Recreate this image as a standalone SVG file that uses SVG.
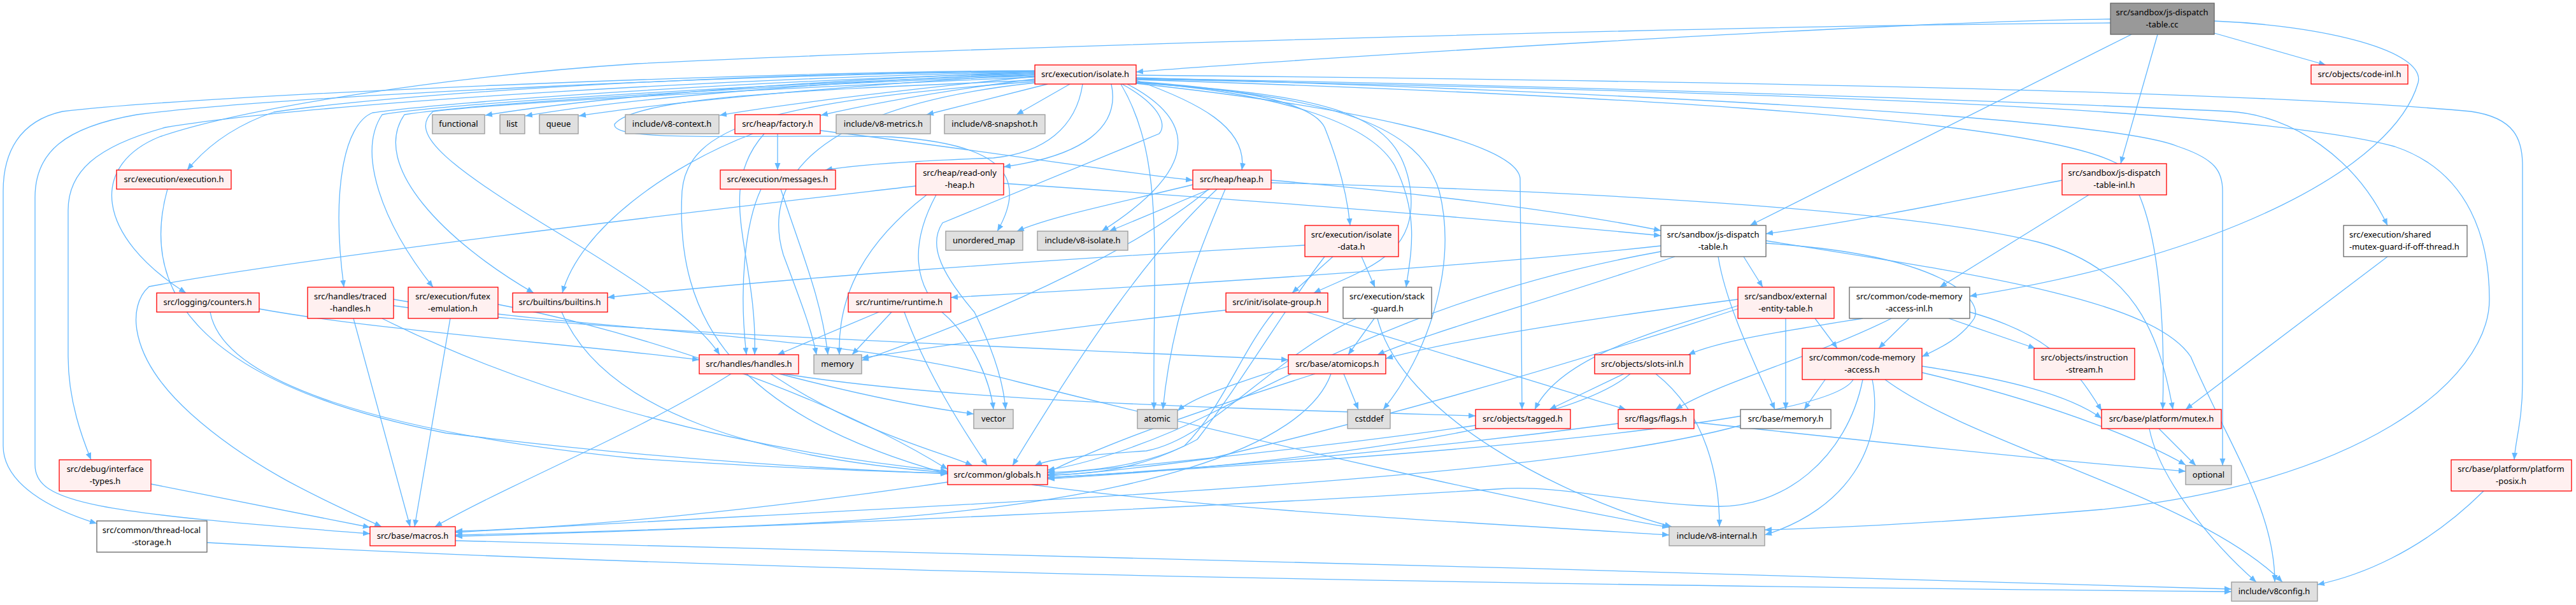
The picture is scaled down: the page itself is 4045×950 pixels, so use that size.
<svg xmlns="http://www.w3.org/2000/svg" width="4045" height="950" viewBox="0 0 4045 950">
<style>
text{font-family:"Noto Sans","Liberation Sans",Arial,sans-serif;font-size:13px;fill:#000;text-anchor:middle}
.r rect{fill:#fff0f0;stroke:#ff0000;stroke-width:1.3}
.w rect{fill:#ffffff;stroke:#666666;stroke-width:1.3}
.g rect{fill:#e0e0e0;stroke:#999999;stroke-width:1.3}
.root rect{fill:#999999;stroke:#666666;stroke-width:1.3}
#edges path{fill:none;stroke:#63b8ff;stroke-width:1.3;marker-end:url(#a)}
</style>
<defs>
<marker id="a" markerWidth="12" markerHeight="10" refX="11" refY="4.5" orient="auto" markerUnits="userSpaceOnUse"><path d="M0,0 L11,4.5 L0,9 z" fill="#63b8ff"/></marker>
</defs>
<rect width="4045" height="950" fill="#ffffff"/>
<g id="edges">
<path d="M3314,30 C3000,32 2000,95 1784,113"/>
<path d="M3314,36 C2700,40 1500,75 1000,100 C700,120 380,170 250,215 C140,260 150,370 292,460"/>
<path d="M3477,52 L3652,102"/>
<path d="M3388,54 L3330,257"/>
<path d="M3347,54 L2748,354"/>
<path d="M3477,33 C3650,40 3810,80 3797,130 C3760,260 3500,400 3093,465"/>
<path d="M1625,113 C1300,125 950,150 762,181"/>
<path d="M1625,115 C1300,128 980,155 825,182"/>
<path d="M1625,117 C1350,132 1050,160 909,182"/>
<path d="M1625,120 C1450,138 1250,160 1130,181"/>
<path d="M1625,124 C1500,140 1380,160 1289,181"/>
<path d="M1645,132 L1455,180"/>
<path d="M1680,132 L1596,180"/>
<path d="M1625,112 C1100,115 600,150 430,176 C360,200 320,235 294,267"/>
<path d="M1625,111 C1200,112 300,150 98,175 C30,190 5,240 5,300 L5,700 C5,760 80,800 152,822"/>
<path d="M1625,112 C1200,116 450,150 215,180 C100,200 55,240 55,310 L55,730 C55,790 150,805 581,838"/>
<path d="M1625,113 C1200,120 500,160 260,200 C150,230 107,270 107,330 L107,560 C107,630 130,690 143,722"/>
<path d="M1625,115 C1200,125 700,160 585,177 C540,195 520,300 540,451"/>
<path d="M1625,117 C1250,130 720,160 600,180 C560,240 600,350 680,451"/>
<path d="M1625,119 C1300,130 760,160 635,180 C580,260 700,380 838,460"/>
<path d="M1625,121 C1300,135 800,160 680,175 C640,210 700,260 900,380 C1030,460 1100,510 1130,557"/>
<path d="M1700,132 C1690,200 1640,240 1560,248 C1450,252 1350,258 1296,267"/>
<path d="M1745,132 C1760,200 1700,245 1576,262"/>
<path d="M1784,126 C1880,160 1960,200 1950,267"/>
<path d="M1625,126 C1300,140 1000,150 965,195 C960,225 1200,210 1400,215 C1560,225 1620,270 1566,363"/>
<path d="M1770,132 C1900,200 1860,280 1730,363"/>
<path d="M1784,128 C1950,140 2060,160 2080,200 C2100,250 2115,300 2120,354"/>
<path d="M1784,129 C2000,145 2150,190 2190,260 C2230,340 2215,400 2208,451"/>
<path d="M1784,130 C2100,150 2200,180 2215,300 C2225,400 2150,420 2063,460"/>
<path d="M1784,131 C2100,165 2380,220 2387,280 L2390,643"/>
<path d="M1784,130 C2100,150 2230,200 2260,300 C2290,420 2240,560 2172,643"/>
<path d="M1760,132 C1830,250 1810,400 1812,643"/>
<path d="M1625,128 C1200,160 1080,200 1071,300 C1060,500 1150,650 1488,744"/>
<path d="M1784,118 C2500,125 3500,140 3880,175 C3950,185 3961,220 3961,260 L3961,600 C3961,660 3950,690 3948,722"/>
<path d="M1784,122 C2400,140 3300,180 3420,230 C3480,250 3490,270 3490,300 L3490,731"/>
<path d="M1784,124 C2500,140 3500,160 3760,230 C3880,270 3909,380 3909,470 C3909,600 3700,760 3300,800 C3000,825 2850,830 2771,832"/>
<path d="M1784,125 C2400,145 3200,180 3330,260 C3390,320 3400,500 3396,643"/>
<path d="M1784,123 C2500,135 3200,160 3500,175 C3600,180 3700,250 3749,354"/>
<path d="M1625,130 C1250,170 1200,300 1230,400 C1260,480 1275,520 1282,557"/>
<path d="M1762,132 C1830,170 1830,200 1820,210 L1480,350 C1460,380 1470,420 1530,490 C1550,530 1575,590 1579,643"/>
<path d="M1221,210 L1221,267"/>
<path d="M1288,205 C1500,230 1750,270 1873,283"/>
<path d="M1182,210 C1050,260 910,360 883,460"/>
<path d="M1200,210 C1120,300 1190,400 1185,557"/>
<path d="M1195,297 C1170,350 1160,450 1172,557"/>
<path d="M1226,297 C1260,400 1290,470 1300,557"/>
<path d="M1438,292 C1200,320 500,400 234,450 C200,480 200,560 300,650 C400,740 520,790 599,827"/>
<path d="M1576,288 C1900,310 2300,340 2608,370"/>
<path d="M1470,306 C1430,380 1430,450 1490,500 C1530,540 1555,600 1560,643"/>
<path d="M1455,306 C1360,380 1315,460 1318,557"/>
<path d="M1873,290 C1750,320 1650,340 1597,363"/>
<path d="M1900,297 L1742,363"/>
<path d="M1898,297 C1800,380 1600,480 1353,566"/>
<path d="M1911,297 C1800,400 1700,550 1590,731"/>
<path d="M1924,297 C1880,400 1840,500 1826,643"/>
<path d="M1996,283 C2200,300 2450,330 2608,362"/>
<path d="M1996,287 C2500,300 3000,330 3200,380 C3350,420 3390,520 3412,643"/>
<path d="M3238,283 C3050,320 2900,350 2773,367"/>
<path d="M3280,306 L3046,451"/>
<path d="M2738,403 L2768,451"/>
<path d="M2608,386 C2300,420 1800,450 1493,467"/>
<path d="M2698,403 C2710,480 2760,580 2787,643"/>
<path d="M2608,395 C2300,450 2100,550 1900,650 C1800,700 1700,730 1645,738"/>
<path d="M2630,403 C2400,480 2250,520 2163,557"/>
<path d="M2773,378 C3100,430 3380,470 3440,560 C3500,700 3572,800 3572,914"/>
<path d="M2773,382 C3050,400 3115,470 3100,500 C3080,530 3050,545 3018,560"/>
<path d="M2850,500 L2885,547"/>
<path d="M2804,500 L2804,643"/>
<path d="M2729,480 C2600,520 2450,560 2410,643"/>
<path d="M2729,470 C2500,500 2300,530 2176,563"/>
<path d="M2729,485 C2500,560 2200,650 1900,720 C1750,740 1680,745 1645,747"/>
<path d="M2998,500 L2950,547"/>
<path d="M2925,500 C2800,520 2700,535 2651,557"/>
<path d="M3060,500 L3196,547"/>
<path d="M2970,500 C2850,560 2700,600 2631,643"/>
<path d="M3093,490 C3200,520 3250,560 3300,645"/>
<path d="M2866,596 L2833,643"/>
<path d="M2940,596 C2960,700 2900,800 2771,840"/>
<path d="M2925,596 C2900,720 2800,800 2690,795 C2550,790 2450,760 2350,768 C2000,790 1200,830 715,842"/>
<path d="M2910,596 C2880,650 2500,700 1645,750"/>
<path d="M3018,575 C3150,595 3250,620 3300,657"/>
<path d="M3018,585 C3250,640 3380,700 3432,730"/>
<path d="M2960,596 C3100,700 3450,780 3584,914"/>
<path d="M2550,587 L2433,643"/>
<path d="M2600,587 C2680,650 2700,750 2700,827"/>
<path d="M2560,587 C2450,680 2000,730 1645,752"/>
<path d="M2110,587 L2133,643"/>
<path d="M2065,587 C1900,640 1750,690 1645,742"/>
<path d="M2090,587 C2050,700 1800,790 1300,820 C1000,835 800,838 715,840"/>
<path d="M2023,575 C1950,600 1880,620 1849,645"/>
<path d="M2317,668 C2100,700 1800,730 1645,745"/>
<path d="M2541,665 C2200,710 1900,735 1645,750"/>
<path d="M2660,663 C3000,700 3300,730 3432,740"/>
<path d="M2733,668 C2400,760 1500,790 715,836"/>
<path d="M3390,673 L3448,731"/>
<path d="M3375,673 C3390,750 3470,850 3543,914"/>
<path d="M3749,403 L3432,643"/>
<path d="M2049,385 C1600,410 1200,440 954,467"/>
<path d="M2093,403 L2029,460"/>
<path d="M2138,403 L2159,451"/>
<path d="M2080,403 C2020,480 1950,600 1880,690 C1800,735 1700,740 1645,742"/>
<path d="M2000,490 C1950,550 1920,640 1860,700 C1780,740 1700,745 1645,746"/>
<path d="M1925,487 C1700,510 1500,540 1353,562"/>
<path d="M2052,490 L2553,643"/>
<path d="M618,480 C900,520 1500,540 2023,565"/>
<path d="M2130,500 C2000,560 1900,690 1800,708 C1700,715 1650,720 1625,731"/>
<path d="M2158,500 L2117,557"/>
<path d="M2163,500 C2200,650 2450,780 2625,827"/>
<path d="M1380,490 L1221,557"/>
<path d="M1400,490 L1338,557"/>
<path d="M1420,490 C1460,600 1530,700 1550,731"/>
<path d="M1148,587 C1000,680 800,760 683,827"/>
<path d="M1210,587 C1350,680 1480,710 1527,731"/>
<path d="M1224,587 C1350,620 1450,640 1529,650"/>
<path d="M1230,587 C1500,630 1900,640 2317,653"/>
<path d="M407,485 C600,520 900,540 1098,565"/>
<path d="M330,490 C350,600 600,680 1000,720 C1300,740 1450,742 1488,743"/>
<path d="M555,500 L644,827"/>
<path d="M600,500 C800,600 1100,700 1488,740"/>
<path d="M618,470 C900,520 1300,520 1600,600 C2000,700 2400,790 2621,828"/>
<path d="M707,500 L651,827"/>
<path d="M782,478 C1000,520 1300,620 1488,737"/>
<path d="M882,490 C950,650 1200,720 1488,742"/>
<path d="M263,297 C220,450 300,600 700,680 C1100,730 1400,740 1488,744"/>
<path d="M237,760 L581,828"/>
<path d="M1488,757 C1200,800 900,830 715,834"/>
<path d="M1620,761 C1900,800 2300,820 2621,840"/>
<path d="M715,849 C1500,870 2600,895 3504,925"/>
<path d="M325,852 C1200,900 2500,920 3504,929"/>
<path d="M3900,771 C3800,870 3700,905 3639,918"/>
</g>
<g id="n1" class="root"><rect x="3314" y="5" width="163" height="49"/><text x="3395" y="24">src/sandbox/js-dispatch</text><text x="3395" y="43">-table.cc</text></g>
<g id="n2" class="r"><rect x="1625" y="102" width="159" height="30"/><text x="1704" y="121">src/execution/isolate.h</text></g>
<g id="n3" class="r"><rect x="3629" y="102" width="152" height="30"/><text x="3705" y="121">src/objects/code-inl.h</text></g>
<g id="n4" class="r"><rect x="1154" y="180" width="134" height="30"/><text x="1221" y="199">src/heap/factory.h</text></g>
<g id="n5" class="r"><rect x="183" y="267" width="180" height="30"/><text x="273" y="286">src/execution/execution.h</text></g>
<g id="n6" class="r"><rect x="1131" y="267" width="181" height="30"/><text x="1221" y="286">src/execution/messages.h</text></g>
<g id="n7" class="r"><rect x="1438" y="257" width="138" height="49"/><text x="1507" y="276">src/heap/read-only</text><text x="1507" y="295">-heap.h</text></g>
<g id="n8" class="r"><rect x="1873" y="267" width="123" height="30"/><text x="1934" y="286">src/heap/heap.h</text></g>
<g id="n9" class="r"><rect x="3238" y="257" width="164" height="49"/><text x="3320" y="276">src/sandbox/js-dispatch</text><text x="3320" y="295">-table-inl.h</text></g>
<g id="n10" class="r"><rect x="2049" y="354" width="147" height="49"/><text x="2122" y="373">src/execution/isolate</text><text x="2122" y="392">-data.h</text></g>
<g id="n11" class="r"><rect x="2729" y="451" width="151" height="49"/><text x="2804" y="470">src/sandbox/external</text><text x="2804" y="489">-entity-table.h</text></g>
<g id="n12" class="r"><rect x="246" y="460" width="161" height="30"/><text x="326" y="479">src/logging/counters.h</text></g>
<g id="n13" class="r"><rect x="483" y="451" width="135" height="49"/><text x="550" y="470">src/handles/traced</text><text x="550" y="489">-handles.h</text></g>
<g id="n14" class="r"><rect x="641" y="451" width="141" height="49"/><text x="711" y="470">src/execution/futex</text><text x="711" y="489">-emulation.h</text></g>
<g id="n15" class="r"><rect x="805" y="460" width="149" height="30"/><text x="879" y="479">src/builtins/builtins.h</text></g>
<g id="n16" class="r"><rect x="1332" y="460" width="161" height="30"/><text x="1412" y="479">src/runtime/runtime.h</text></g>
<g id="n17" class="r"><rect x="1925" y="460" width="160" height="30"/><text x="2005" y="479">src/init/isolate-group.h</text></g>
<g id="n18" class="r"><rect x="1098" y="557" width="156" height="30"/><text x="1176" y="576">src/handles/handles.h</text></g>
<g id="n19" class="r"><rect x="2023" y="557" width="153" height="30"/><text x="2100" y="576">src/base/atomicops.h</text></g>
<g id="n20" class="r"><rect x="2504" y="557" width="150" height="30"/><text x="2579" y="576">src/objects/slots-inl.h</text></g>
<g id="n21" class="r"><rect x="2830" y="547" width="188" height="49"/><text x="2924" y="566">src/common/code-memory</text><text x="2924" y="585">-access.h</text></g>
<g id="n22" class="r"><rect x="3194" y="547" width="158" height="49"/><text x="3273" y="566">src/objects/instruction</text><text x="3273" y="585">-stream.h</text></g>
<g id="n23" class="r"><rect x="2317" y="643" width="149" height="30"/><text x="2391" y="662">src/objects/tagged.h</text></g>
<g id="n24" class="r"><rect x="2541" y="643" width="119" height="30"/><text x="2600" y="662">src/flags/flags.h</text></g>
<g id="n25" class="r"><rect x="3300" y="643" width="188" height="30"/><text x="3394" y="662">src/base/platform/mutex.h</text></g>
<g id="n26" class="r"><rect x="93" y="722" width="144" height="49"/><text x="165" y="741">src/debug/interface</text><text x="165" y="760">-types.h</text></g>
<g id="n27" class="r"><rect x="1488" y="731" width="157" height="30"/><text x="1566" y="750">src/common/globals.h</text></g>
<g id="n28" class="r"><rect x="3849" y="722" width="189" height="49"/><text x="3943" y="741">src/base/platform/platform</text><text x="3943" y="760">-posix.h</text></g>
<g id="n29" class="r"><rect x="581" y="827" width="134" height="30"/><text x="648" y="846">src/base/macros.h</text></g>
<g id="n30" class="w"><rect x="2608" y="354" width="165" height="49"/><text x="2690" y="373">src/sandbox/js-dispatch</text><text x="2690" y="392">-table.h</text></g>
<g id="n31" class="w"><rect x="3680" y="354" width="194" height="49"/><text x="3689" y="373" style="text-anchor:start">src/execution/shared</text><text x="3689" y="392" style="text-anchor:start">-mutex-guard-if-off-thread.h</text></g>
<g id="n32" class="w"><rect x="2109" y="451" width="139" height="49"/><text x="2178" y="470">src/execution/stack</text><text x="2178" y="489">-guard.h</text></g>
<g id="n33" class="w"><rect x="2904" y="451" width="189" height="49"/><text x="2998" y="470">src/common/code-memory</text><text x="2998" y="489">-access-inl.h</text></g>
<g id="n34" class="w"><rect x="2733" y="643" width="142" height="30"/><text x="2804" y="662">src/base/memory.h</text></g>
<g id="n35" class="w"><rect x="152" y="818" width="173" height="49"/><text x="238" y="837">src/common/thread-local</text><text x="238" y="856">-storage.h</text></g>
<g id="n36" class="g"><rect x="679" y="180" width="82" height="30"/><text x="720" y="199">functional</text></g>
<g id="n37" class="g"><rect x="785" y="180" width="39" height="30"/><text x="804" y="199">list</text></g>
<g id="n38" class="g"><rect x="847" y="180" width="61" height="30"/><text x="877" y="199">queue</text></g>
<g id="n39" class="g"><rect x="982" y="180" width="147" height="30"/><text x="1055" y="199">include/v8-context.h</text></g>
<g id="n40" class="g"><rect x="1313" y="180" width="148" height="30"/><text x="1387" y="199">include/v8-metrics.h</text></g>
<g id="n41" class="g"><rect x="1483" y="180" width="158" height="30"/><text x="1562" y="199">include/v8-snapshot.h</text></g>
<g id="n42" class="g"><rect x="1485" y="363" width="121" height="30"/><text x="1545" y="382">unordered_map</text></g>
<g id="n43" class="g"><rect x="1629" y="363" width="142" height="30"/><text x="1700" y="382">include/v8-isolate.h</text></g>
<g id="n44" class="g"><rect x="1278" y="557" width="75" height="30"/><text x="1315" y="576">memory</text></g>
<g id="n45" class="g"><rect x="1529" y="643" width="62" height="30"/><text x="1560" y="662">vector</text></g>
<g id="n46" class="g"><rect x="1786" y="643" width="63" height="30"/><text x="1817" y="662">atomic</text></g>
<g id="n47" class="g"><rect x="2116" y="643" width="67" height="30"/><text x="2150" y="662">cstddef</text></g>
<g id="n48" class="g"><rect x="3432" y="731" width="72" height="30"/><text x="3468" y="750">optional</text></g>
<g id="n49" class="g"><rect x="2621" y="827" width="150" height="30"/><text x="2696" y="846">include/v8-internal.h</text></g>
<g id="n50" class="g"><rect x="3504" y="914" width="135" height="30"/><text x="3571" y="933">include/v8config.h</text></g>
</svg>
